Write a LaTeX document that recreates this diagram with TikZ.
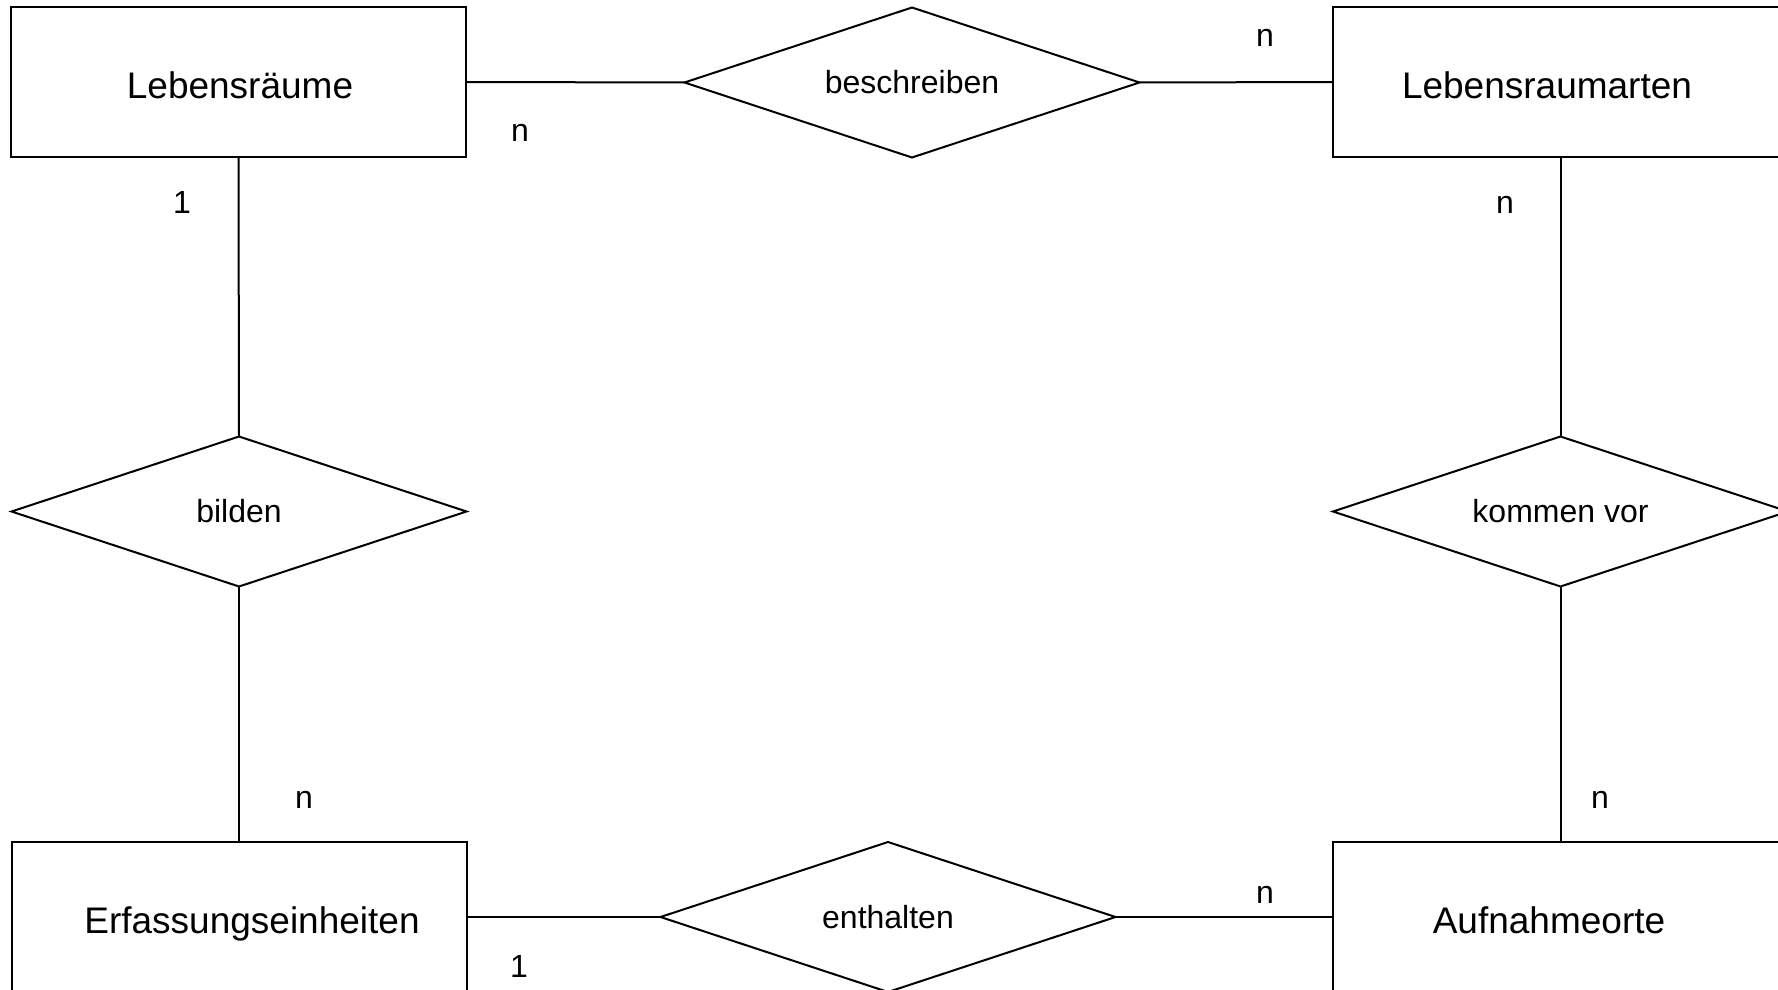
\documentclass[tikz,border=0pt]{standalone}
\usepackage{fontspec}
\setmainfont{Liberation Sans}
\usetikzlibrary{shapes.geometric}
\begin{document}
\begin{tikzpicture}[x=1pt,y=-1pt,
  entity/.style={draw=black, line width=2pt, rectangle, minimum width=455pt, minimum height=150pt, inner sep=0pt, outer sep=0pt},
  rel/.style={draw=black, line width=2pt, diamond, aspect=3.033, minimum width=455pt, minimum height=150pt, inner sep=0pt, outer sep=0pt, font=\fontsize{32}{36}\selectfont},
  etext/.style={anchor=base, inner sep=0pt, font=\fontsize{37}{40}\selectfont},
  card/.style={inner sep=0pt, font=\fontsize{32}{36}\selectfont},
  conn/.style={draw=black, line width=2pt}]
\useasboundingbox (0,0) rectangle (1778,990);
\clip (0,0) rectangle (1778,990);
\fill[white] (0,0) rectangle (1778,990);
% entities
\node[entity] (lr) at (238.5,82) {};
\node[entity] (lra) at (1560.5,82) {};
\node[entity] (ee) at (239,917) {};
\node[entity] (ao) at (1560.5,917) {};
\node[etext] (tlr) at (240,99) {Lebensräume};
\node[etext] (tlra) at (1547,99) {Lebensraumarten};
\node[etext] (tee) at (252,933) {Erfassungseinheiten};
\node[etext] (tao) at (1549,933) {Aufnahmeorte};
% relationships
\node[rel] (besch) at (912,82.5) {beschreiben};
\node[rel] (bild) at (239,511.5) {bilden};
\node[rel] (komm) at (1560.5,511.5) {kommen vor};
\node[rel] (enth) at (888,917) {enthalten};
% connectors
\draw[conn] (lr.east) -- (besch.west);
\draw[conn] (besch.east) -- (lra.west);
\draw[conn] (lr.south) -- (bild.north);
\draw[conn] (bild.south) -- (ee.north);
\draw[conn] (ee.east) -- (enth.west);
\draw[conn] (enth.east) -- (ao.west);
\draw[conn] (lra.south) -- (komm.north);
\draw[conn] (komm.south) -- (ao.north);
% cardinalities
\node[card] (c1) at (520,133) {n};
\node[card] (c2) at (1265,38) {n};
\node[card] (c3) at (182,202) {1};
\node[card] (c4) at (1505,205) {n};
\node[card] (c5) at (304,800) {n};
\node[card] (c6) at (1600,800) {n};
\node[card] (c7) at (1265,895) {n};
\node[card] (c8) at (519,966) {1};
\end{tikzpicture}
\end{document}
